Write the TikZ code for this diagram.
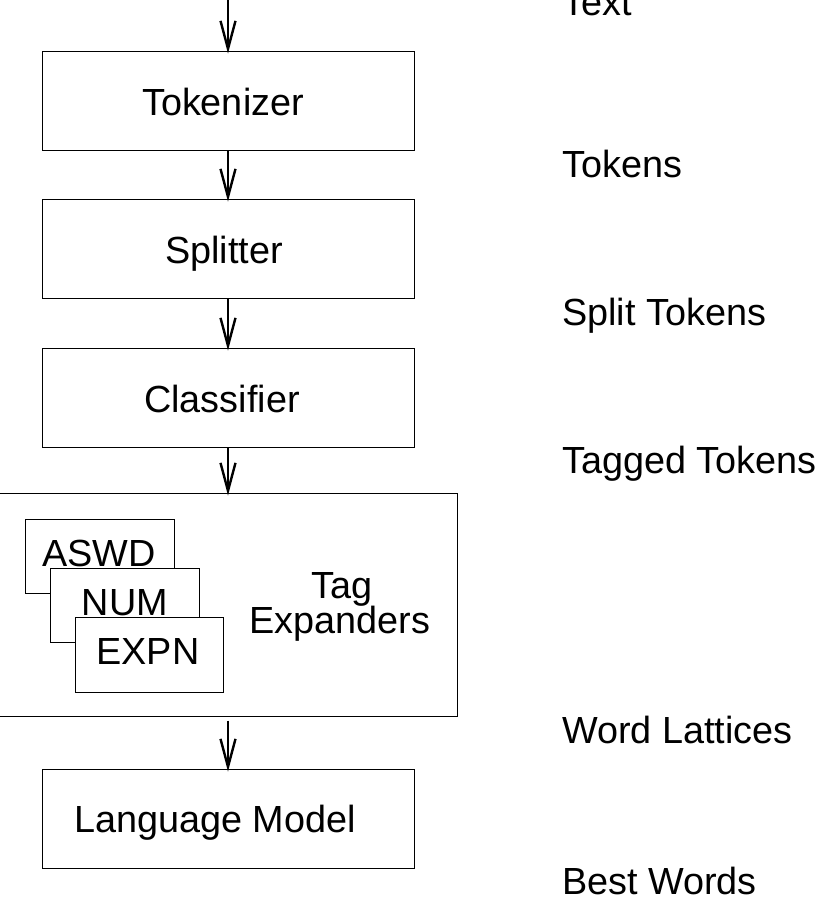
\documentclass[tikz,border=0pt]{standalone}
\usepackage{fontspec}
\setmainfont{Liberation Sans}
\usetikzlibrary{arrows.meta}
\begin{document}
\begin{tikzpicture}[x=1pt,y=-1pt,
  box/.style={draw=black, line width=1pt, rectangle, inner sep=0pt, fill=white},
  bigbox/.style={box, minimum width=372pt, minimum height=99pt},
  smallbox/.style={box, minimum width=149pt, minimum height=74pt},
  txt/.style={inner sep=0pt, anchor=base, font=\fontsize{37.8}{35}\selectfont},
  lbl/.style={inner sep=0pt, anchor=base west, font=\fontsize{37.8}{35}\selectfont},
  flow/.style={line width=2.4pt, shorten >=-3pt, -{Straight Barb[length=28pt,width=15pt]}}]
\useasboundingbox (0,0) rectangle (820,898);

% main boxes
\node[bigbox] (tok) at (228,100.5) {};
\node[bigbox] (spl) at (228,248.5) {};
\node[bigbox] (cls) at (228,397.5) {};
\node[box, minimum width=458pt, minimum height=223pt] (tag) at (228,604.5) {};
\node[bigbox] (lm) at (228,818.5) {};

\node[txt] (tokT) at (223,115) {Tokenizer};
\node[txt] (splT) at (224,263) {Splitter};
\node[txt] (clsT) at (222,412) {Classifier};
\node[txt] (lmT) at (215,832) {Language Model};

% tag expanders inside
\node[smallbox] (aswd) at (99.5,556) {};
\node[txt] (aswdT) at (99,566) {ASWD};
\node[smallbox] (num) at (124.5,605) {};
\node[txt] (numT) at (125,615) {NUM};
\node[smallbox, minimum height=75pt, minimum width=148pt] (expn) at (149,654.5) {};
\node[txt] (expnT) at (148,664) {EXPN};
\node[txt] (tagT1) at (342,598) {Tag};
\node[txt] (tagT2) at (340,633) {Expanders};

% connectors
\coordinate (in) at (228,-2);
\draw[flow] (in) -- (tok.north);
\draw[flow] (tok.south) -- (spl.north);
\draw[flow] (spl.south) -- (cls.north);
\draw[flow] (cls.south) -- (tag.north);
\draw[flow, shorten <=4pt] (tag.south) -- (lm.north);

% data labels
\node[lbl] (l1) at (562,15) {Text};
\node[lbl] (l2) at (562,177) {Tokens};
\node[lbl] (l3) at (562,325) {Split Tokens};
\node[lbl] (l4) at (562,473) {Tagged Tokens};
\node[lbl] (l5) at (562,743) {Word Lattices};
\node[lbl] (l6) at (562,894) {Best Words};
\end{tikzpicture}
\end{document}
